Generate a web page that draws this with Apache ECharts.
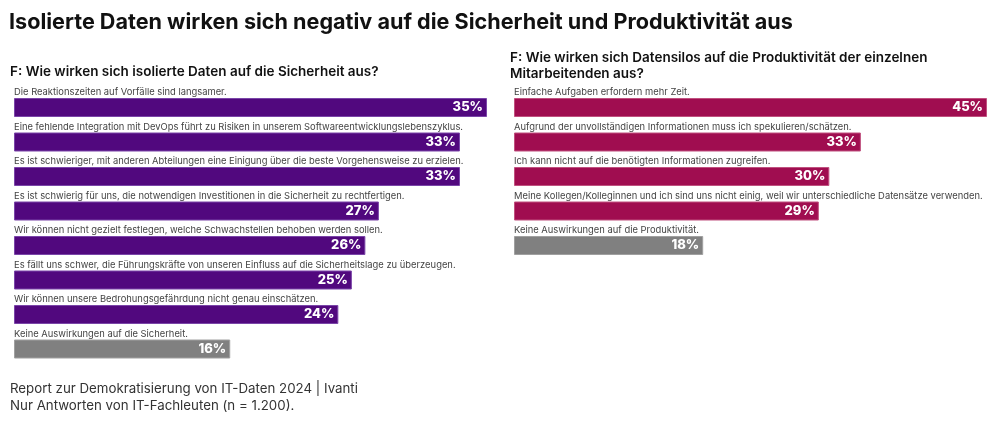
<!DOCTYPE html>
<html>
<head>
<meta charset="utf-8">
<script src="https://cdn.jsdelivr.net/npm/echarts@6/dist/echarts.min.js"></script>
<style>
html,body{margin:0;padding:0;background:#fff;}
#chart{width:1000px;height:421px;}
</style>
</head>
<body>
<div id="chart"></div>
<script>
const leftCategories = [
  "Die Reaktionszeiten auf Vorfälle sind langsamer.",
  "Eine fehlende Integration mit DevOps führt zu Risiken in unserem Softwareentwicklungslebenszyklus.",
  "Es ist schwieriger, mit anderen Abteilungen eine Einigung über die beste Vorgehensweise zu erzielen.",
  "Es ist schwierig für uns, die notwendigen Investitionen in die Sicherheit zu rechtfertigen.",
  "Wir können nicht gezielt festlegen, welche Schwachstellen behoben werden sollen.",
  "Es fällt uns schwer, die Führungskräfte von unseren Einfluss auf die Sicherheitslage zu überzeugen.",
  "Wir können unsere Bedrohungsgefährdung nicht genau einschätzen.",
  "Keine Auswirkungen auf die Sicherheit."
];
const leftValues = [35, 33, 33, 27, 26, 25, 24, 16];

const rightCategories = [
  "Einfache Aufgaben erfordern mehr Zeit.",
  "Aufgrund der unvollständigen Informationen muss ich spekulieren/schätzen.",
  "Ich kann nicht auf die benötigten Informationen zugreifen.",
  "Meine Kollegen/Kolleginnen und ich sind uns nicht einig, weil wir unterschiedliche Datensätze verwenden.",
  "Keine Auswirkungen auf die Produktivität."
];
const rightValues = [45, 33, 30, 29, 18];

const mainTitle = "Isolierte Daten wirken sich negativ auf die Sicherheit und Produktivität aus";
const leftQuestion = "F: Wie wirken sich isolierte Daten auf die Sicherheit aus?";
const rightQuestion = "F: Wie wirken sich Datensilos auf die Produktivität der einzelnen\nMitarbeitenden aus?";
const footnote = "Report zur Demokratisierung von IT-Daten 2024 | Ivanti\nNur Antworten von IT-Fachleuten (n = 1.200).";

const FONT = "Inter, 'Noto Sans', sans-serif";
const PURPLE = "#51087e", PURPLE_B = "#7a45a8";
const RED = "#a00d50", RED_B = "#c0517f";
const GRAY = "#808080", GRAY_B = "#a0a0a0";

function itemData(vals, main, border, grayIdx) {
  return vals.map((v, i) => ({
    value: v,
    itemStyle: i === grayIdx ? {color: GRAY, borderColor: GRAY_B} : {color: main, borderColor: border}
  }));
}

const chart = echarts.init(document.getElementById('chart'));
const BAND = 34.5;
chart.setOption({
  backgroundColor: '#fff',
  animation: false,
  title: [
    {text: mainTitle, left: 9, top: 11, padding: 0, textStyle: {fontFamily: FONT, fontSize: 21.6, fontWeight: 'bold', color: '#111'}},
    {text: leftQuestion, left: 10, top: 65, padding: 0, textStyle: {fontFamily: FONT, fontSize: 13.5, fontWeight: 600, color: '#111'}},
    {text: rightQuestion, left: 510, top: 50, padding: 0, textStyle: {fontFamily: FONT, fontSize: 13.5, fontWeight: 600, color: '#111', lineHeight: 16}},
    {text: footnote, left: 10, top: 380, padding: 0, textStyle: {fontFamily: FONT, fontSize: 13.3, fontWeight: 'normal', color: '#333', lineHeight: 17}}
  ],
  grid: [
    {left: 14, top: 90.25, width: 473, height: BAND * leftValues.length},
    {left: 514, top: 90.25, width: 473, height: BAND * rightValues.length}
  ],
  xAxis: [
    {gridIndex: 0, type: 'value', min: 0, max: 35, show: false},
    {gridIndex: 1, type: 'value', min: 0, max: 45, show: false}
  ],
  yAxis: [
    {gridIndex: 0, type: 'category', data: leftCategories, inverse: true, show: false},
    {gridIndex: 1, type: 'category', data: rightCategories, inverse: true, show: false}
  ],
  series: [
    {
      type: 'bar', xAxisIndex: 0, yAxisIndex: 0, barWidth: 19,
      data: itemData(leftValues, PURPLE, PURPLE_B, 7),
      itemStyle: {borderWidth: 1},
      label: {show: true, position: 'insideRight', distance: 4, formatter: '{c}%', color: '#fff', fontFamily: FONT, fontWeight: 800, fontSize: 13}
    },
    {
      type: 'bar', xAxisIndex: 0, yAxisIndex: 0, barWidth: 19, barGap: '-100%', silent: true,
      data: leftValues, itemStyle: {color: 'rgba(0,0,0,0)'},
      label: {show: true, position: [0, -1], align: 'left', verticalAlign: 'bottom',
        formatter: p => leftCategories[p.dataIndex], color: '#444', fontFamily: FONT, fontSize: 9.4}
    },
    {
      type: 'bar', xAxisIndex: 1, yAxisIndex: 1, barWidth: 19,
      data: itemData(rightValues, RED, RED_B, 4),
      itemStyle: {borderWidth: 1},
      label: {show: true, position: 'insideRight', distance: 4, formatter: '{c}%', color: '#fff', fontFamily: FONT, fontWeight: 800, fontSize: 13}
    },
    {
      type: 'bar', xAxisIndex: 1, yAxisIndex: 1, barWidth: 19, barGap: '-100%', silent: true,
      data: rightValues, itemStyle: {color: 'rgba(0,0,0,0)'},
      label: {show: true, position: [0, -1], align: 'left', verticalAlign: 'bottom',
        formatter: p => rightCategories[p.dataIndex], color: '#444', fontFamily: FONT, fontSize: 9.4}
    }
  ]
});
</script>
</body>
</html>
